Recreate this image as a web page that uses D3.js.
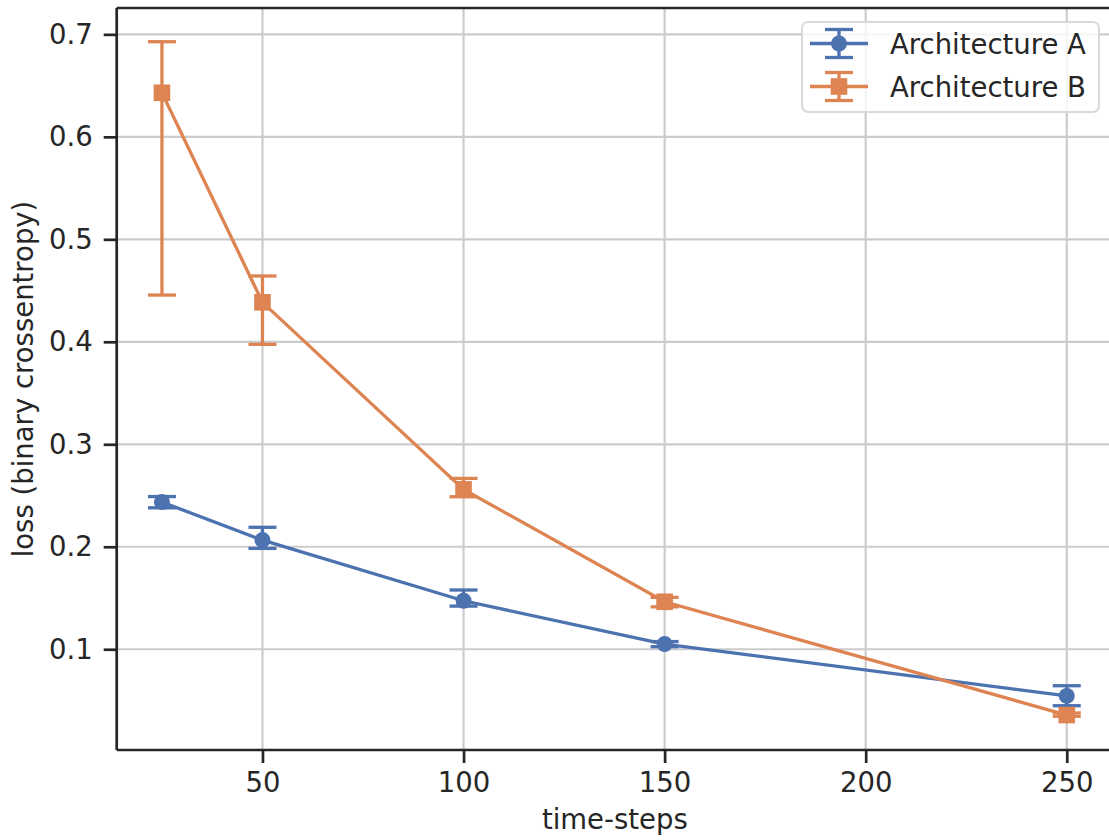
<!DOCTYPE html>
<html>
<head>
<meta charset="utf-8">
<script src="https://cdn.jsdelivr.net/npm/d3@7"></script>
<style>
  body { margin: 0; background: #fff; }
  text { font-family: "DejaVu Sans", sans-serif; fill: #262626; }
</style>
</head>
<body>
<script>
// values (error bars are not symmetric)
var steps = [25, 50, 100, 150, 250];
var lossA = [0.2436, 0.2065, 0.1473, 0.1050, 0.0545];
var errA_lo = [0.0056, 0.0081, 0.0052, 0.0025, 0.0096];
var errA_hi = [0.0054, 0.0125, 0.0105, 0.0025, 0.0099];
var lossB = [0.6430, 0.4385, 0.2560, 0.1463, 0.0358];
var errB_lo = [0.1974, 0.0410, 0.0072, 0.0049, 0.0012];
var errB_hi = [0.0498, 0.0257, 0.0107, 0.0043, 0.0020];
var xTicks = [50, 100, 150, 200, 250];
var yTicks = [0.1, 0.2, 0.3, 0.4, 0.5, 0.6, 0.7];
var seriesNames = ["Architecture A", "Architecture B"];
var colors = ["#4c72b0", "#dd8452"];

var w = 1109, h = 840;
// plot box (right edge runs just past the picture, as in the original)
var pLeft = 116.7, pRight = 1112, pTop = 8, pBottom = 750;
var lw = 3.3;

var svg = d3.select("body").append("svg")
  .attr("width", w)
  .attr("height", h);

// matplotlib-like 5% margins
var xlo = d3.min(steps), xhi = d3.max(steps);
var xpad = (xhi - xlo) * 0.05;
var allLo = lossA.map(function (v, i) { return v - errA_lo[i]; })
  .concat(lossB.map(function (v, i) { return v - errB_lo[i]; }));
var allHi = lossA.map(function (v, i) { return v + errA_hi[i]; })
  .concat(lossB.map(function (v, i) { return v + errB_hi[i]; }));
var ylo = d3.min(allLo), yhi = d3.max(allHi);
var ypad = (yhi - ylo) * 0.05;

var x = d3.scaleLinear().domain([xlo - xpad, xhi + xpad]).range([pLeft, pRight]);
var y = d3.scaleLinear().domain([ylo - ypad, yhi + ypad]).range([pBottom, pTop]);

// grid
svg.append("g").selectAll("line")
  .data(xTicks).enter().append("line")
  .attr("x1", function (d) { return x(d); })
  .attr("x2", function (d) { return x(d); })
  .attr("y1", pTop).attr("y2", pBottom)
  .attr("stroke", "#cccccc").attr("stroke-width", 2.2);
svg.append("g").selectAll("line")
  .data(yTicks).enter().append("line")
  .attr("y1", function (d) { return y(d); })
  .attr("y2", function (d) { return y(d); })
  .attr("x1", pLeft).attr("x2", pRight)
  .attr("stroke", "#cccccc").attr("stroke-width", 2.2);

// axes
var xAxis = svg.append("g")
  .attr("transform", "translate(0," + pBottom + ")")
  .call(d3.axisBottom(x).tickValues(xTicks).tickSize(13).tickPadding(9).tickFormat(d3.format("d")));
var yAxis = svg.append("g")
  .attr("transform", "translate(" + pLeft + ",0)")
  .call(d3.axisLeft(y).tickValues(yTicks).tickSize(13).tickPadding(11).tickFormat(d3.format(".1f")));
[xAxis, yAxis].forEach(function (g) {
  g.select(".domain").attr("stroke", "#262626").attr("stroke-width", 2.7);
  g.selectAll(".tick line").attr("stroke", "#262626").attr("stroke-width", 2.7);
  g.selectAll(".tick text").attr("fill", "#262626").style("font-size", "27.5px")
    .style("font-family", "DejaVu Sans, sans-serif");
});
xAxis.select(".domain").attr("d", "M" + pLeft + ",0H" + pRight);
yAxis.select(".domain").attr("d", "M0," + pTop + "V" + pBottom);
// top spine
svg.append("line")
  .attr("x1", pLeft).attr("x2", pRight).attr("y1", pTop).attr("y2", pTop)
  .attr("stroke", "#262626").attr("stroke-width", 2.7);

// series
var series = [
  { vals: lossA, lo: errA_lo, hi: errA_hi, color: colors[0], marker: "circle" },
  { vals: lossB, lo: errB_lo, hi: errB_hi, color: colors[1], marker: "square" }
];
var capW = 14;
var line = d3.line()
  .x(function (d) { return x(d.s); })
  .y(function (d) { return y(d.v); });

series.forEach(function (s) {
  var pts = steps.map(function (st, i) {
    return { s: st, v: s.vals[i], lo: s.vals[i] - s.lo[i], hi: s.vals[i] + s.hi[i] };
  });
  var g = svg.append("g");
  g.append("path").datum(pts)
    .attr("d", line)
    .attr("fill", "none")
    .attr("stroke", s.color)
    .attr("stroke-width", lw);
  var eb = g.selectAll("g.eb").data(pts).enter().append("g");
  eb.append("line")
    .attr("x1", function (d) { return x(d.s); })
    .attr("x2", function (d) { return x(d.s); })
    .attr("y1", function (d) { return y(d.lo); })
    .attr("y2", function (d) { return y(d.hi); })
    .attr("stroke", s.color).attr("stroke-width", lw);
  ["lo", "hi"].forEach(function (k) {
    eb.append("line")
      .attr("x1", function (d) { return x(d.s) - capW; })
      .attr("x2", function (d) { return x(d.s) + capW; })
      .attr("y1", function (d) { return y(d[k]); })
      .attr("y2", function (d) { return y(d[k]); })
      .attr("stroke", s.color).attr("stroke-width", lw);
  });
  if (s.marker == "circle") {
    g.selectAll("circle").data(pts).enter().append("circle")
      .attr("cx", function (d) { return x(d.s); })
      .attr("cy", function (d) { return y(d.v); })
      .attr("r", 8)
      .attr("fill", s.color);
  } else {
    g.selectAll("rect").data(pts).enter().append("rect")
      .attr("x", function (d) { return x(d.s) - 8.3; })
      .attr("y", function (d) { return y(d.v) - 8.3; })
      .attr("width", 16.6).attr("height", 16.6)
      .attr("fill", s.color);
  }
});

// axis labels
svg.append("text")
  .attr("x", (pLeft + 1109) / 2 + 2)
  .attr("y", 829)
  .attr("text-anchor", "middle")
  .style("font-size", "27.5px")
  .text("time-steps");
svg.append("text")
  .attr("transform", "translate(33," + ((pTop + pBottom) / 2) + ") rotate(-90)")
  .attr("text-anchor", "middle")
  .style("font-size", "27.5px")
  .text("loss (binary crossentropy)");

// legend
var leg = svg.append("g").attr("transform", "translate(802,22)");
leg.append("rect")
  .attr("width", 297).attr("height", 90)
  .attr("rx", 6)
  .attr("fill", "#fff").attr("fill-opacity", 0.8)
  .attr("stroke", "#d9d9d9").attr("stroke-width", 2);
seriesNames.forEach(function (name, i) {
  var cy = 21.5 + i * 43;
  var e = leg.append("g");
  e.append("line").attr("x1", 8).attr("x2", 66).attr("y1", cy).attr("y2", cy)
    .attr("stroke", colors[i]).attr("stroke-width", lw);
  e.append("line").attr("x1", 37).attr("x2", 37).attr("y1", cy - 14).attr("y2", cy + 14)
    .attr("stroke", colors[i]).attr("stroke-width", lw);
  [-14, 14].forEach(function (dy) {
    e.append("line").attr("x1", 23).attr("x2", 51).attr("y1", cy + dy).attr("y2", cy + dy)
      .attr("stroke", colors[i]).attr("stroke-width", lw);
  });
  if (i == 0) {
    e.append("circle").attr("cx", 37).attr("cy", cy).attr("r", 8).attr("fill", colors[i]);
  } else {
    e.append("rect").attr("x", 28.7).attr("y", cy - 8.3).attr("width", 16.6).attr("height", 16.6).attr("fill", colors[i]);
  }
  e.append("text")
    .attr("x", 88).attr("y", cy + 10)
    .style("font-size", "27.5px")
    .text(name);
});
</script>
</body>
</html>
